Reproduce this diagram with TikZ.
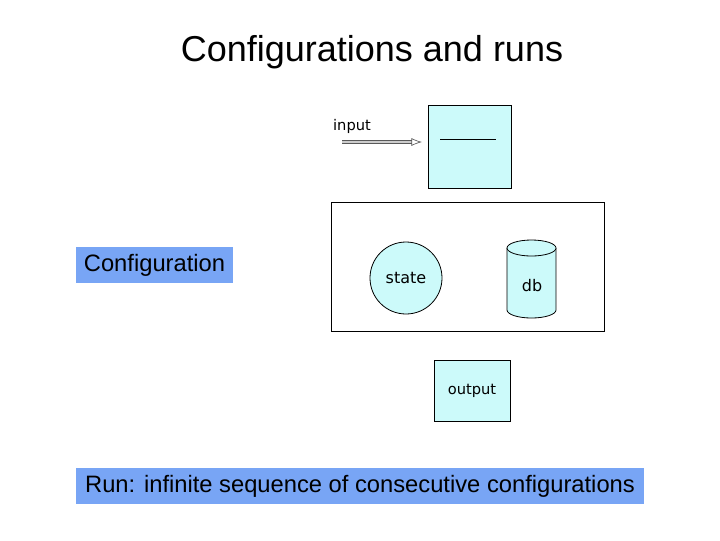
\documentclass[tikz,border=0pt]{standalone}
\usepackage{fontspec}
\setmainfont{Liberation Sans}
\newfontfamily\dv{DejaVu Sans}
\usetikzlibrary{arrows.meta}
\definecolor{lc}{RGB}{204,250,250}
\definecolor{lb}{RGB}{120,165,245}
\begin{document}
\begin{tikzpicture}[x=0.75pt,y=-0.75pt,
  lbl/.style={fill=lb,inner sep=0pt,font=\fontsize{17.8}{20}\selectfont},
  sm/.style={font=\dv\fontsize{11}{13}\selectfont},
  cy/.style={fill=lc,draw=black,line width=0.6pt}]
\useasboundingbox (0,0) rectangle (720,540);
\node (title) at (372,52) {\fontsize{27}{31}\selectfont Configurations and runs};
\node[sm] (in) at (352,126) {input};
\node[cy,minimum width=62.25pt,minimum height=62.25pt] (q) at (469.5,146.5) {};
\draw[line width=0.6pt] (440,139) -- (496,139);
\coordinate (a1) at (342,142);
\coordinate (a2) at (422,142);
\draw[draw=gray!70!black,double=gray!40,double distance=1.6pt,line width=0.5pt,-{Latex[open,length=8pt,width=6pt]}] (a1) -- (a2);
\node[draw=black,line width=0.6pt,minimum width=204.75pt,minimum height=96.75pt] (cfg) at (467.5,266.5) {};
\node[cy,circle,minimum size=54pt,font=\dv\fontsize{12}{14}\selectfont] (st) at (406,278) {state};
\fill[lc] (507,248) rectangle (556,310);
\fill[lc] (531.5,310) ellipse[x radius=24.5,y radius=8];
\draw[line width=0.6pt] (507,248) -- (507,310) arc[start angle=180,end angle=0,x radius=24.5,y radius=8] -- (556,248);
\draw[cy] (531.5,248) ellipse[x radius=24.5,y radius=8];
\node[font=\dv\fontsize{12}{14}\selectfont] (db) at (532,286) {db};
\node[cy,minimum width=57pt,minimum height=45.75pt,sm] (out) at (472,390.5) {output};
\node[lbl,minimum width=117.75pt,minimum height=27pt] (c) at (154.5,265) {Configuration};
\node[lbl,minimum width=426pt,minimum height=27pt] (r) at (360,486) {Run: infinite sequence of consecutive configurations};
\end{tikzpicture}
\end{document}
